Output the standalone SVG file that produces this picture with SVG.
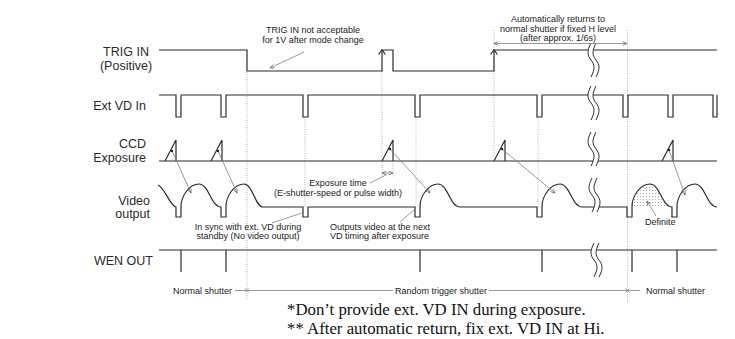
<svg xmlns="http://www.w3.org/2000/svg" width="735" height="339" viewBox="0 0 735 339">
<style>
.sig{fill:none;stroke:#2b2b2b;stroke-width:1.2;stroke-linejoin:miter}
.dot{fill:none;stroke:#a8a8a8;stroke-width:0.9;stroke-dasharray:1 1.4}
.ptr{fill:none;stroke:#808080;stroke-width:0.8}
.brk{fill:none;stroke:#2b2b2b;stroke-width:1}
.lbl{font-family:"Liberation Sans",Arial,sans-serif;font-size:12.5px;fill:#2a2a2a}
.ann{font-family:"Liberation Sans",Arial,sans-serif;font-size:9px;fill:#222}
.note{font-family:"Liberation Serif","Times New Roman",serif;font-size:16.8px;fill:#111}
</style>
<defs>
<marker id="ah" viewBox="0 0 8 8" refX="7.5" refY="4" markerWidth="5" markerHeight="5" orient="auto-start-reverse" markerUnits="userSpaceOnUse">
<path d="M0.5,1 L7.5,4 L0.5,7" fill="none" stroke="#666" stroke-width="1.2"/>
</marker>
<pattern id="stip" width="3" height="3" patternUnits="userSpaceOnUse">
<circle cx="1.5" cy="1.5" r="0.55" fill="#9a9a9a"/>
</pattern>
<g id="brk">
<path d="M0,0 C-4,8 -4,12 0,17 C4,22 4,26 0,34 L5,34 C9,26 9,22 5,17 C1,12 1,8 5,0 Z" fill="#fff" stroke="none"/>
<path class="brk" d="M0,0 C-4,8 -4,12 0,17 C4,22 4,26 0,34"/>
<path class="brk" d="M5,0 C1,8 1,12 5,17 C9,22 9,26 5,34"/>
</g>
</defs>
<rect width="735" height="339" fill="#fff"/>

<g id="labels">
<text class="lbl" x="126" y="56" text-anchor="middle">TRIG IN</text>
<text class="lbl" x="126" y="70" text-anchor="middle">(Positive)</text>
<text class="lbl" x="146" y="110" text-anchor="end">Ext VD In</text>
<text class="lbl" x="146" y="148" text-anchor="end">CCD</text>
<text class="lbl" x="146" y="162" text-anchor="end">Exposure</text>
<text class="lbl" x="150" y="205" text-anchor="end">Video</text>
<text class="lbl" x="150" y="218" text-anchor="end">output</text>
<text class="lbl" x="153" y="265" text-anchor="end">WEN OUT</text>
</g>

<g id="guides">
<line class="dot" x1="247" y1="72" x2="247" y2="300"/>
<line class="dot" x1="305" y1="117" x2="305" y2="207"/>
<line class="dot" x1="382" y1="71" x2="382" y2="177"/>
<line class="dot" x1="393" y1="161" x2="393" y2="177"/>
<line class="dot" x1="416" y1="117" x2="416" y2="207"/>
<line class="dot" x1="494" y1="30" x2="494" y2="161"/>
<line class="dot" x1="538" y1="117" x2="538" y2="207"/>
<line class="dot" x1="627.5" y1="30" x2="627.5" y2="302"/>
</g>

<g id="signals">
<path class="sig" d="M159,50 H247 V71 H382 V50 H393 V71 H494 V50 H717"/>
<path class="sig" d="M378.5,54.5 L382,50 L385.5,54.5 M490.5,54.5 L494,50 L497.5,54.5"/>
<path class="sig" d="M159,95 H176 V117 H181 V95 H221 V117 H226 V95 H303 V117 H308 V95 H415 V117 H420 V95 H537 V117 H542 V95 H623 V117 H628 V95 H668 V117 H673 V95 H713 V117 H717 V95"/>
<path class="sig" d="M159,161 H717 M165,161 L176,140 V161 M211,161 L222,140 V161 M382,161 L393,140 V161 M494,161 L505,140 V161 M662,161 L673,140 V161"/>
<path d="M632,207 C632,195 641,184 650,184 C660,184 662,207 672,207 Z" fill="url(#stip)" stroke="none"/>
<path class="sig" d="M158,185 C165,188 170,206 176,207 V217 H181 V207 C181,195 190,184 199,184 C209,184 211,207 221,207 V217 H226 V207 C226,195 235,184 244,184 C253,184 255,207 263,207 H303 V217 H308 V207 H415 V217 H420 V207 C420,195 429,184 438,184 C448,184 450,207 460,207 H537 V217 H542 V207 C542,195 551,184 560,184 C570,184 572,207 582,207 H627 V217 H632 V207 C632,195 641,184 650,184 C660,184 662,207 672,207 V217 H677 V207 C677,195 686,184 695,184 C705,184 707,207 717,207"/>
<path class="sig" d="M159,250 H717 M181,250 V272 M226,250 V272 M420,250 V272 M542,250 V272 M632,250 V272 M677,250 V272"/>
<use href="#brk" x="591" y="43"/>
<use href="#brk" x="591" y="86"/>
<use href="#brk" x="591" y="132"/>
<use href="#brk" x="592" y="178"/>
<use href="#brk" x="594" y="243"/>
</g>

<g id="connectors">
<path class="ptr" d="M172,151 L191,193" marker-end="url(#ah)"/>
<path class="ptr" d="M218,151 L237,193" marker-end="url(#ah)"/>
<path class="ptr" d="M390,149 L430,193" marker-end="url(#ah)"/>
<path class="ptr" d="M502,149 L555,193" marker-end="url(#ah)"/>
<path class="ptr" d="M669,150 L685,195" marker-end="url(#ah)"/>
<circle cx="172" cy="151" r="1.2" fill="#222"/>
<circle cx="218" cy="151" r="1.2" fill="#222"/>
<circle cx="390" cy="149" r="1.2" fill="#222"/>
<circle cx="502" cy="149" r="1.2" fill="#222"/>
<circle cx="669" cy="150" r="1.2" fill="#222"/>
<path class="ptr" d="M304,52 L270,68" marker-end="url(#ah)"/>
<path class="ptr" d="M382,173 H393" marker-start="url(#ah)" marker-end="url(#ah)"/>
<path class="ptr" d="M494,43.5 H627" marker-start="url(#ah)" marker-end="url(#ah)"/>
<path class="ptr" d="M370,183 L386,175"/>
<path class="ptr" d="M272,223 L302,213"/>
<path class="ptr" d="M400,222 L414,210"/>
<path class="ptr" d="M656,216 L647,201" marker-end="url(#ah)"/>
<path class="ptr" d="M235,290.5 H393 M489,290.5 H640"/>
<path class="ptr" d="M245,288.5 L249,292.5 M249,288.5 L245,292.5 M625.5,288.5 L629.5,292.5 M629.5,288.5 L625.5,292.5"/>
</g>

<g id="annotations">
<text class="ann" x="313" y="33" text-anchor="middle">TRIG IN not acceptable</text>
<text class="ann" x="313" y="43" text-anchor="middle">for 1V after mode change</text>
<text class="ann" x="558" y="21.5" text-anchor="middle">Automatically returns to</text>
<text class="ann" x="558" y="31.5" text-anchor="middle">normal shutter if fixed H level</text>
<text class="ann" x="558" y="41" text-anchor="middle">(after approx. 1/6s)</text>
<text class="ann" x="338" y="186" text-anchor="middle">Exposure time</text>
<text class="ann" x="338" y="195.5" text-anchor="middle">(E-shutter-speed or pulse width)</text>
<text class="ann" x="248" y="230" text-anchor="middle">In sync with ext. VD during</text>
<text class="ann" x="248" y="239" text-anchor="middle">standby (No video output)</text>
<text class="ann" x="330" y="230">Outputs video at the next</text>
<text class="ann" x="330" y="239">VD timing after exposure</text>
<text class="ann" x="645" y="225">Definite</text>
<text class="ann" x="232" y="293.5" text-anchor="end">Normal shutter</text>
<text class="ann" x="441" y="293.5" text-anchor="middle">Random trigger shutter</text>
<text class="ann" x="646" y="293.5">Normal shutter</text>
</g>

<g id="notes">
<text class="note" x="287" y="315">*Don’t provide ext. VD IN during exposure.</text>
<text class="note" x="287" y="334">** After automatic return, fix ext. VD IN at Hi.</text>
</g>
</svg>
